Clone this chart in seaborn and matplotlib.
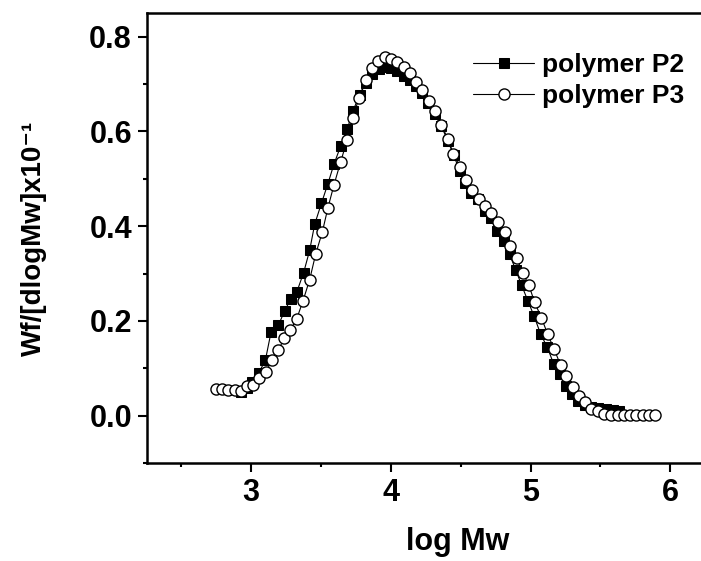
import matplotlib
matplotlib.use("Agg")
import matplotlib.pyplot as plt
from matplotlib.ticker import MultipleLocator
import seaborn as sns
import pandas as pd

# polymer P2 (filled squares)
p2_logmw = [2.929, 2.971, 3.008, 3.055, 3.101, 3.142, 3.194, 3.239, 3.282, 3.327,
            3.375, 3.418, 3.454, 3.502, 3.549, 3.592, 3.640, 3.688, 3.728, 3.776,
            3.824, 3.867, 3.914, 3.962, 4.003, 4.046, 4.093, 4.134, 4.182, 4.225,
            4.265, 4.313, 4.361, 4.408, 4.449, 4.492, 4.531, 4.576, 4.623, 4.671,
            4.714, 4.759, 4.807, 4.849, 4.893, 4.936, 4.981, 5.025, 5.072, 5.120,
            5.164, 5.210, 5.253, 5.294, 5.340, 5.387, 5.435, 5.484, 5.537, 5.588,
            5.634]
p2_wf = [0.050, 0.058, 0.072, 0.091, 0.117, 0.177, 0.191, 0.221, 0.246, 0.262,
         0.302, 0.349, 0.404, 0.448, 0.490, 0.531, 0.569, 0.606, 0.643, 0.678,
         0.703, 0.721, 0.731, 0.737, 0.735, 0.727, 0.718, 0.708, 0.696, 0.682,
         0.661, 0.636, 0.611, 0.580, 0.550, 0.517, 0.492, 0.471, 0.457, 0.432,
         0.418, 0.390, 0.369, 0.341, 0.308, 0.275, 0.242, 0.210, 0.172, 0.144,
         0.110, 0.088, 0.062, 0.045, 0.031, 0.023, 0.019, 0.017, 0.014, 0.012,
         0.010]

# polymer P3 (open circles)
p3_logmw = [2.745, 2.793, 2.836, 2.881, 2.929, 2.972, 3.015, 3.058, 3.105, 3.148,
            3.194, 3.237, 3.280, 3.325, 3.370, 3.418, 3.461, 3.509, 3.549, 3.592,
            3.640, 3.688, 3.728, 3.771, 3.819, 3.867, 3.907, 3.955, 3.998, 4.046,
            4.091, 4.134, 4.177, 4.225, 4.272, 4.313, 4.360, 4.408, 4.446, 4.497,
            4.540, 4.583, 4.630, 4.677, 4.719, 4.766, 4.814, 4.855, 4.899, 4.945,
            4.988, 5.029, 5.077, 5.122, 5.169, 5.214, 5.256, 5.301, 5.346, 5.392,
            5.435, 5.482, 5.525, 5.575, 5.623, 5.666, 5.713, 5.757, 5.802, 5.847,
            5.892]
p3_wf = [0.057, 0.056, 0.055, 0.055, 0.053, 0.062, 0.065, 0.080, 0.092, 0.117,
         0.138, 0.164, 0.181, 0.204, 0.242, 0.287, 0.341, 0.388, 0.439, 0.487,
         0.536, 0.583, 0.629, 0.671, 0.708, 0.735, 0.749, 0.758, 0.754, 0.747,
         0.737, 0.723, 0.705, 0.688, 0.664, 0.644, 0.613, 0.585, 0.553, 0.524,
         0.498, 0.476, 0.458, 0.442, 0.427, 0.408, 0.387, 0.358, 0.333, 0.301,
         0.275, 0.239, 0.207, 0.172, 0.140, 0.107, 0.083, 0.061, 0.042, 0.029,
         0.015, 0.009, 0.003, 0.001, 0.001, 0.001, 0.001, 0.001, 0.001, 0.001,
         0.001]

sns.set_style("ticks")
plt.rcParams["font.family"] = ["Liberation Sans", "DejaVu Sans"]
plt.rcParams["font.weight"] = "bold"
plt.rcParams["axes.labelweight"] = "bold"
for key in ["text.color", "axes.labelcolor", "xtick.color", "ytick.color"]:
    plt.rcParams[key] = "black"

fig = plt.figure(figsize=(7.01, 5.61), dpi=100)
ax = fig.add_axes([0.209, 0.1747, 0.797, 0.802])

df2 = pd.DataFrame({"x": p2_logmw, "y": p2_wf})
df3 = pd.DataFrame({"x": p3_logmw, "y": p3_wf})

sns.lineplot(data=df2, x="x", y="y", ax=ax, sort=False, estimator=None,
             color="black", linewidth=0.8, marker="s", markersize=6.5,
             markerfacecolor="black", markeredgecolor="black", label="polymer P2")
sns.lineplot(data=df3, x="x", y="y", ax=ax, sort=False, estimator=None,
             color="black", linewidth=0.8, marker="o", markersize=8,
             markerfacecolor="white", markeredgecolor="black", markeredgewidth=1,
             label="polymer P3")

ax.set_xlim(2.25, 6.25)
ax.set_ylim(-0.1, 0.85)
ax.xaxis.set_major_locator(MultipleLocator(1))
ax.xaxis.set_minor_locator(MultipleLocator(0.5))
ax.yaxis.set_minor_locator(MultipleLocator(0.1))
ax.set_yticks([0.0, 0.2, 0.4, 0.6, 0.8])
ax.set_yticklabels(["0.0", "0.2", "0.4", "0.6", "0.8"])

for side in ["left", "bottom", "top"]:
    ax.spines[side].set_linewidth(1.8)
    ax.spines[side].set_color("black")
ax.spines["right"].set_visible(False)

ax.tick_params(which="major", direction="out", length=6.5, width=1.5,
               labelsize=22, pad=4, top=False, right=False)
ax.tick_params(which="minor", direction="out", length=3, width=1.5,
               top=False, right=False)

ax.set_xlabel("log Mw", fontsize=22, fontweight="bold")
ax.xaxis.set_label_coords(0.557, -0.142)
ax.set_ylabel("Wf/[dlogMw]x10⁻¹", fontsize=20, fontweight="bold")
ax.yaxis.set_label_coords(-0.178, 0.5)

leg = ax.legend(loc="upper left", bbox_to_anchor=(460 / 701, 1 - 40 / 561),
                bbox_transform=fig.transFigure, frameon=False, borderpad=0,
                handlelength=2.3, handletextpad=0.3, labelspacing=0.25,
                prop={"size": 19, "weight": "bold"})
for line in leg.get_lines():
    line.set_linewidth(0.8)

fig.savefig("out.png", dpi=100)
